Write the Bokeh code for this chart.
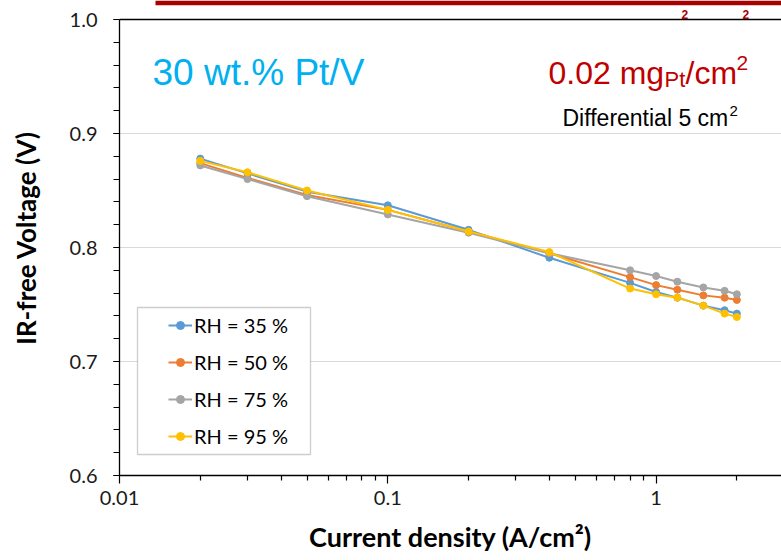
from bokeh.plotting import figure
from bokeh.models import (Range1d, FixedTicker, SingleIntervalTicker, CustomJSTickFormatter,
                          PrintfTickFormatter, Span, Label, BoxAnnotation)
from bokeh.embed import file_html
from bokeh.resources import INLINE

# ---------------- data ----------------
current_density = [0.02, 0.03, 0.05, 0.1, 0.2, 0.4, 0.8, 1.0, 1.2, 1.5, 1.8, 2.0]
rh35 = [0.878, 0.865, 0.849, 0.837, 0.8155, 0.791, 0.769, 0.761, 0.756, 0.749, 0.745, 0.742]
rh50 = [0.874, 0.861, 0.846, 0.833, 0.814, 0.795, 0.774, 0.767, 0.763, 0.758, 0.756, 0.754]
rh75 = [0.872, 0.860, 0.845, 0.829, 0.813, 0.795, 0.780, 0.775, 0.770, 0.765, 0.762, 0.759]
rh95 = [0.876, 0.866, 0.850, 0.833, 0.814, 0.796, 0.764, 0.759, 0.756, 0.749, 0.742, 0.739]
series_labels = ["RH = 35 %", "RH = 50 %", "RH = 75 %", "RH = 95 %"]
series_colors = ["#5B9BD5", "#ED7D31", "#A5A5A5", "#FFC000"]
x_major_ticks = [0.01, 0.1, 1]
x_minor_ticks = [0.02, 0.03, 0.04, 0.05, 0.06, 0.07, 0.08, 0.09,
                 0.2, 0.3, 0.4, 0.5, 0.6, 0.7, 0.8, 0.9, 2]
x_title = "Current density (A/cm²)"
y_title = "IR-free Voltage (V)"

# ---------------- layout ----------------
W, H = 781, 560
FRAME_LEFT = 119
FRAME_BOTTOM_PX = 475
TOP_PX = 19              # pixel row of y = 1.0
PX_PER_DECADE = 268.3
PX_PER_VOLT = 1140.0
X_END = 10 ** (-2 + (W - FRAME_LEFT) / PX_PER_DECADE)
Y_END = 1.0 + TOP_PX / PX_PER_VOLT


def fx(px):
    return 10 ** (-2 + (px - FRAME_LEFT) / PX_PER_DECADE)


def fy(py):
    return 1.0 - (py - TOP_PX) / PX_PER_VOLT


p = figure(width=W, height=H, x_axis_type="log",
           x_range=Range1d(0.01, X_END), y_range=Range1d(0.6, Y_END),
           output_backend="svg", toolbar_location=None,
           min_border_left=FRAME_LEFT, min_border_right=0,
           min_border_top=0, min_border_bottom=H - FRAME_BOTTOM_PX)
p.outline_line_color = None
p.background_fill_color = "white"
p.border_fill_color = "white"

# axes
xa = p.xaxis[0]
ya = p.yaxis[0]
xa.ticker = FixedTicker(ticks=x_major_ticks, minor_ticks=x_minor_ticks)
xa.formatter = CustomJSTickFormatter(code="return tick.toString();")
ya.ticker = SingleIntervalTicker(interval=0.1, num_minor_ticks=5)
ya.formatter = PrintfTickFormatter(format="%.1f")
ya.bounds = (0.6, 1.0)

for ax in (xa, ya):
    ax.axis_line_color = "black"
    ax.axis_line_width = 1.3
    ax.major_tick_line_color = "black"
    ax.minor_tick_line_color = "black"
    ax.major_tick_line_width = 1.2
    ax.minor_tick_line_width = 1.2
    ax.major_tick_in = 0
    ax.minor_tick_in = 0
    ax.major_label_text_font = "Lato"
    ax.major_label_text_font_size = "20px"
    ax.major_label_text_color = "#1a1a1a"
    ax.axis_label_text_font = "Lato"
    ax.axis_label_text_font_style = "bold"
    ax.axis_label_text_color = "black"

xa.major_tick_out = 8
xa.minor_tick_out = 5
xa.major_label_standoff = 7
xa.axis_label = x_title
xa.axis_label_text_font_size = "27px"
xa.axis_label_standoff = 12

ya.major_tick_out = 6
ya.minor_tick_out = 6
ya.major_label_standoff = 16
ya.axis_label = y_title
ya.axis_label_text_font_size = "26px"
ya.axis_label_standoff = 25

p.xgrid.visible = False
p.ygrid.grid_line_color = "#D9D9D9"
p.ygrid.grid_line_width = 1

# top frame line at 1.0
p.add_layout(Span(location=1.0, dimension="width", line_color="black", line_width=1.3))

# cropped red title bar at the very top
p.add_layout(BoxAnnotation(left=fx(155), right=None, top=None, bottom=fy(4.7),
                           fill_color="#A80000", fill_alpha=1.0, line_color=None))
for px in (681, 742):
    p.add_layout(Label(x=fx(px), y=fy(14), text="2", text_font="Liberation Sans",
                       text_font_size="12px", text_font_style="bold",
                       text_color="#A80000", text_baseline="alphabetic"))

# legend frame
p.add_layout(BoxAnnotation(left=fx(137), right=fx(310), top=fy(307), bottom=fy(454),
                           fill_color="white", fill_alpha=1.0,
                           line_color="#595959", line_width=1.3))

# series
for label, vals, color in zip(series_labels, [rh35, rh50, rh75, rh95], series_colors):
    p.line(current_density, vals, line_color=color, line_width=2, legend_label=label)
    p.scatter(current_density, vals, size=7, fill_color=color, line_color=color,
              legend_label=label)

lg = p.legend[0]
lg.location = (45, 23)
lg.border_line_alpha = 0
lg.background_fill_alpha = 0
lg.padding = 4
lg.margin = 0
lg.spacing = 13
lg.glyph_width = 24
lg.glyph_height = 20
lg.label_height = 20
lg.label_standoff = 2
lg.label_text_font = "Lato"
lg.label_text_font_size = "20px"
lg.label_text_color = "black"

# annotations (anchored at top-left corner of the plot frame: x=0.01, y=1.0)
def add_text(text, dx, base_y, size, color, font="Liberation Sans"):
    p.add_layout(Label(x=0.01, y=1.0, x_offset=dx, y_offset=-(base_y - TOP_PX),
                       text=text, text_font=font, text_font_size=size,
                       text_color=color, text_baseline="alphabetic", text_align="left"))

add_text("30 wt.% Pt/V", 152 - FRAME_LEFT, 72, "37px", "#00B0F0")
add_text("0.02 mg", 548 - FRAME_LEFT, 72, "32px", "#C00000")
add_text("Pt", 664 - FRAME_LEFT, 79, "22px", "#C00000")
add_text("/cm", 685 - FRAME_LEFT, 72, "32px", "#C00000")
add_text("2", 736 - FRAME_LEFT, 62, "21px", "#C00000")
add_text("Differential 5 cm", 562 - FRAME_LEFT, 117, "23px", "black")
add_text("2", 729 - FRAME_LEFT, 110, "15px", "black")

open("out.html", "w").write(file_html(p, INLINE))
